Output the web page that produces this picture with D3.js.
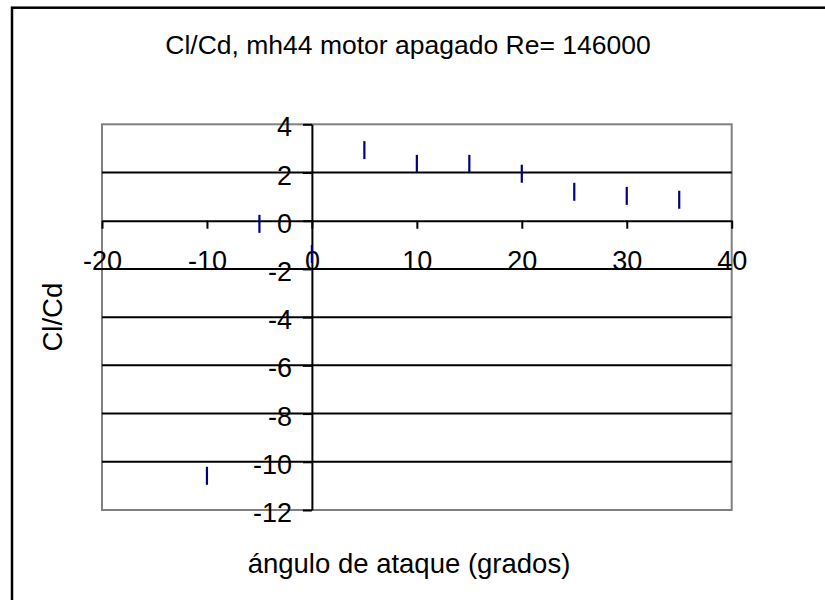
<!DOCTYPE html>
<html>
<head>
<meta charset="utf-8">
<script src="https://cdn.jsdelivr.net/npm/d3@7"></script>
<style>
  html, body { margin: 0; padding: 0; background: #fff; }
  svg { display: block; font-family: "Liberation Sans", Arial, sans-serif; }
</style>
</head>
<body>
<svg id="chart" width="825" height="600"></svg>
<script>
// Angle of attack (degrees) and Cl/Cd ratio, mh44 airfoil, motor off, Re = 146000
const angles = [-10, -5, 0, 5, 10, 15, 20, 25, 30, 35];
const clcd   = [-10.58, -0.13, -1.38, 2.93, 2.36, 2.36, 1.95, 1.2, 1.03, 0.87];

const xTicks = [-20, -10, 0, 10, 20, 30, 40];
const yTicks = [-12, -10, -8, -6, -4, -2, 0, 2, 4];
const gridValues = [-10, -8, -6, -4, -2, 2];

const titleText = "Cl/Cd, mh44 motor apagado Re= 146000";
const xTitle = "ángulo de ataque (grados)";
const yTitle = "Cl/Cd";

const svg = d3.select("#chart");
const plot = { left: 102, right: 731.7, top: 124.3, bottom: 510 };

const x = d3.scaleLinear().domain([-20, 40]).range([plot.left, plot.right]);
const y = d3.scaleLinear().domain([-12, 4]).range([plot.bottom, plot.top]);

// Outer chart frame (right and bottom edges run past the visible area)
svg.append("rect")
  .attr("x", 12).attr("y", 7.7)
  .attr("width", 900).attr("height", 700)
  .attr("fill", "none").attr("stroke", "#000").attr("stroke-width", 2.5);

// Title
svg.append("text")
  .attr("x", 408).attr("y", 54)
  .attr("text-anchor", "middle")
  .attr("font-size", 26.5)
  .text(titleText);

// Plot area border
svg.append("rect")
  .attr("x", plot.left).attr("y", plot.top)
  .attr("width", plot.right - plot.left).attr("height", plot.bottom - plot.top)
  .attr("fill", "none").attr("stroke", "#808080").attr("stroke-width", 2);

// Horizontal gridlines
svg.append("g").selectAll("line").data(gridValues).join("line")
  .attr("x1", plot.left).attr("x2", plot.right)
  .attr("y1", d => y(d)).attr("y2", d => y(d))
  .attr("stroke", "#000").attr("stroke-width", 2);

// X axis crossing at Cl/Cd = 0
const xAxis = svg.append("g")
  .attr("transform", `translate(0,${y(0)})`)
  .call(d3.axisBottom(x).tickValues(xTicks).tickSizeInner(8).tickSizeOuter(0)
        .tickFormat(d => String(d)));
xAxis.select(".domain").attr("stroke", "#000").attr("stroke-width", 2);
xAxis.selectAll(".tick line").attr("stroke", "#000").attr("stroke-width", 2);
xAxis.selectAll(".tick text")
  .attr("y", 49.3).attr("dy", null)
  .attr("fill", "#000")
  .attr("font-size", 27)
  .attr("font-family", "Liberation Sans, Arial, sans-serif");

// Y axis crossing at angle = 0
const yAxis = svg.append("g")
  .attr("transform", `translate(${x(0)},0)`)
  .call(d3.axisLeft(y).tickValues(yTicks).tickSizeInner(9).tickSizeOuter(0)
        .tickFormat(d => String(d)));
yAxis.select(".domain").attr("stroke", "#000").attr("stroke-width", 2);
yAxis.selectAll(".tick line").attr("stroke", "#000").attr("stroke-width", 2);
yAxis.selectAll(".tick text")
  .attr("x", -(x(0) - 292)).attr("dy", 11.6)
  .attr("fill", "#000")
  .attr("font-size", 27)
  .attr("font-family", "Liberation Sans, Arial, sans-serif");

// Axis titles
svg.append("text")
  .attr("x", 409).attr("y", 573)
  .attr("text-anchor", "middle")
  .attr("font-size", 27.5)
  .text(xTitle);

svg.append("text")
  .attr("transform", `translate(62,${(plot.top + plot.bottom) / 2}) rotate(-90)`)
  .attr("text-anchor", "middle")
  .attr("font-size", 27.5)
  .text(yTitle);

// Data markers: short vertical dashes
const points = angles.map((a, i) => ({ a, v: clcd[i] }));
svg.append("g").selectAll("line").data(points).join("line")
  .attr("x1", d => x(d.a)).attr("x2", d => x(d.a))
  .attr("y1", d => y(d.v) - 9).attr("y2", d => y(d.v) + 9)
  .attr("stroke", "#000080").attr("stroke-width", 2.2);
</script>
</body>
</html>
